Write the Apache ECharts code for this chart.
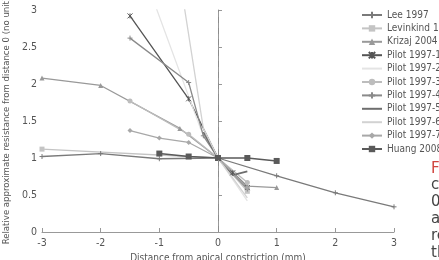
<!DOCTYPE html>
<html>
<head>
<meta charset="utf-8">
<script src="https://cdn.jsdelivr.net/npm/echarts@6/dist/echarts.min.js"></script>
<style>
  html, body { margin: 0; padding: 0; background: #fff; }
  #chart { width: 439px; height: 260px; }
</style>
</head>
<body>
<div id="chart"></div>
<script>
  // series names (legend order)
  const seriesNames = ['Lee 1997', 'Levinkind 1997', 'Krizaj 2004', 'Pilot 1997-1', 'Pilot 1997-2',
    'Pilot 1997-3', 'Pilot 1997-4', 'Pilot 1997-5', 'Pilot 1997-6', 'Pilot 1997-7', 'Huang 2008'];

  // [distance (mm), relative resistance]
  const lee1997 = [[-3, 1.02], [-2, 1.06], [-1, 0.99], [0, 1], [1, 0.76], [2, 0.53], [3, 0.34]];
  const levinkind1997 = [[-3, 1.12], [0, 1], [0.5, 0.55]];
  const krizaj2004 = [[-3, 2.08], [-2, 1.98], [-0.65, 1.4], [0, 1], [0.5, 0.62], [1, 0.6]];
  const pilot1 = [[-1.5, 2.92], [-0.5, 1.8], [0, 1], [0.25, 0.8], [0.5, 0.6]];
  const pilot2 = [[-1.05, 3.02], [-0.3, 1.4], [0, 1], [0.5, 0.42]];
  const pilot3 = [[-1.5, 1.77], [-0.5, 1.32], [0, 1], [0.5, 0.67]];
  const pilot4 = [[-1.5, 2.62], [-0.5, 2.02], [-0.25, 1.3], [0, 1], [0.5, 0.58]];
  const pilot5 = [[-0.25, 1.35], [0, 1], [0.25, 0.77], [0.5, 0.82]];
  const pilot6 = [[-0.57, 3.02], [-0.25, 1.4], [0, 1], [0.5, 0.46]];
  const pilot7 = [[-1.5, 1.37], [-1, 1.27], [-0.5, 1.21], [0, 1], [0.5, 0.6]];
  const huang2008 = [[-1, 1.06], [-0.5, 1.02], [0, 1], [0.5, 1.0], [1, 0.96]];

  const cross = 'path://M0,5L10,5M5,0L5,10';
  const xMark = 'path://M0,0L10,10M10,0L0,10M5,0L5,10';
  const font = 'DejaVu Sans Condensed, sans-serif';

  function line(name, data, color, symbol, size, width) {
    return {
      name: name,
      type: 'line',
      data: data,
      symbol: symbol || 'none',
      symbolSize: size || 4,
      showSymbol: !!symbol,
      lineStyle: {color: color, width: width || 1.3},
      itemStyle: {color: color, borderColor: color, borderWidth: symbol && symbol.indexOf('path') === 0 ? 1 : 0},
      animation: false
    };
  }

  const chart = echarts.init(document.getElementById('chart'));
  const series = [
    line(seriesNames[0], lee1997, '#7a7a7a', cross, 5),
    line(seriesNames[1], levinkind1997, '#c4c4c4', 'rect', 5),
    line(seriesNames[2], krizaj2004, '#999999', 'triangle', 5),
    line(seriesNames[3], pilot1, '#555555', xMark, 5),
    line(seriesNames[4], pilot2, '#e4e4e4', null),
    line(seriesNames[5], pilot3, '#bdbdbd', 'circle', 5),
    line(seriesNames[6], pilot4, '#8a8a8a', cross, 5),
    line(seriesNames[7], pilot5, '#6e6e6e', null, 0, 1.8),
    line(seriesNames[8], pilot6, '#d2d2d2', null),
    line(seriesNames[9], pilot7, '#a8a8a8', 'diamond', 5),
    line(seriesNames[10], huang2008, '#5a5a5a', 'rect', 6, 1.5)
  ];
  series[0].markLine = {
    silent: true,
    symbol: 'none',
    label: {show: false},
    lineStyle: {color: '#8c8c8c', type: [6, 5], width: 1},
    data: [{xAxis: 0}]
  };

  // plain-line legend icons for the series drawn without markers
  const legendData = seriesNames.map(function (n, i) {
    return series[i].symbol === 'none' ? {name: n, itemStyle: {opacity: 0}} : n;
  });

  const captionStyle = {fontSize: 15, fontFamily: 'DejaVu Sans', fill: '#444'};

  chart.setOption({
    animation: false,
    textStyle: {fontFamily: font},
    grid: {left: 42, top: 10, right: 45, bottom: 28, containLabel: false, outerBoundsMode: 'none'},
    legend: {
      orient: 'vertical',
      left: 356,
      top: 4,
      itemWidth: 20,
      itemHeight: 8,
      itemGap: 1.4,
      textStyle: {fontSize: 10, color: '#555', lineHeight: 12, fontFamily: font},
      data: legendData
    },
    xAxis: {
      type: 'value',
      min: -3,
      max: 3,
      interval: 1,
      name: 'Distance from apical constriction (mm)',
      nameLocation: 'middle',
      nameGap: 20,
      nameTextStyle: {fontSize: 10, color: '#555', fontFamily: font},
      axisLine: {lineStyle: {color: '#999'}},
      axisTick: {inside: true, length: 4, lineStyle: {color: '#999'}},
      axisLabel: {fontSize: 10.5, color: '#555', margin: 6, fontFamily: font},
      splitLine: {show: false}
    },
    yAxis: {
      type: 'value',
      min: 0,
      max: 3,
      interval: 0.5,
      name: 'Relative approximate resistance from distance 0 (no unit)',
      nameLocation: 'middle',
      nameGap: 29,
      nameTextStyle: {fontSize: 9.5, color: '#555', fontFamily: font},
      axisLine: {show: true, lineStyle: {color: '#999'}},
      axisTick: {show: true, inside: true, length: 4, lineStyle: {color: '#999'}},
      axisLabel: {fontSize: 10.5, color: '#555', margin: 5, fontFamily: font},
      splitLine: {show: false}
    },
    graphic: [
      {type: 'text', left: 431, top: 162, style: Object.assign({}, captionStyle, {text: 'F', fill: '#d0453f'})},
      {type: 'text', left: 431, top: 178, style: Object.assign({}, captionStyle, {text: 'co'})},
      {type: 'text', left: 431, top: 195, style: Object.assign({}, captionStyle, {text: '0'})},
      {type: 'text', left: 431, top: 212, style: Object.assign({}, captionStyle, {text: 'a'})},
      {type: 'text', left: 431, top: 229, style: Object.assign({}, captionStyle, {text: 're'})},
      {type: 'text', left: 431, top: 246, style: Object.assign({}, captionStyle, {text: 'th'})}
    ],
    series: series
  });
</script>
</body>
</html>
